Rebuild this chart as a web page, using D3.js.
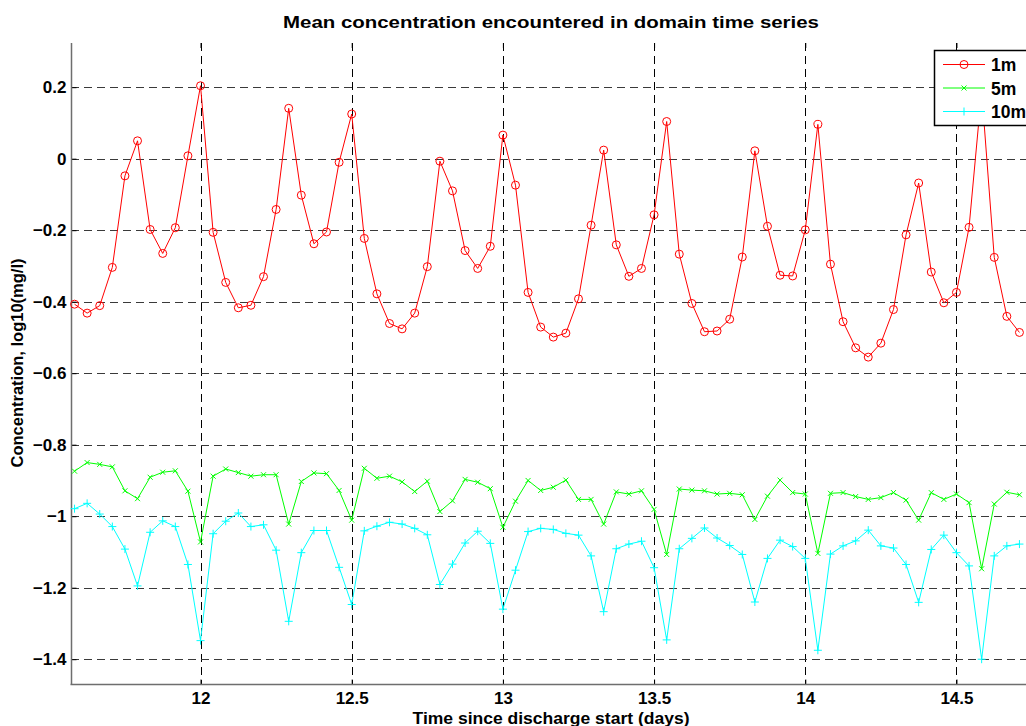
<!DOCTYPE html>
<html>
<head>
<meta charset="utf-8">
<script src="https://cdn.jsdelivr.net/npm/d3@7"></script>
<style>
    body { margin: 0; background: #fff; }
    svg { display: block; font-family: "Liberation Sans", Arial, sans-serif; font-weight: bold; }
    .grid line { stroke-dasharray: 8,5; shape-rendering: crispEdges; }
</style>
</head>
<body>
<div id="view"></div>
<script>
// hours relative to day 12.0, one sample per hour
const hours = d3.range(-10, 66);

const conc1m = [
    -0.407, -0.432, -0.411, -0.304, -0.048, 0.050, -0.198, -0.265, -0.193, 0.008,
    0.204, -0.206, -0.346, -0.417, -0.410, -0.330, -0.142, 0.141, -0.102, -0.238,
    -0.205, -0.010, 0.125, -0.223, -0.378, -0.461, -0.476, -0.432, -0.302, -0.007,
    -0.090, -0.257, -0.307, -0.245, 0.066, -0.074, -0.374, -0.471, -0.499, -0.488,
    -0.392, -0.186, 0.024, -0.241, -0.329, -0.307, -0.157, 0.104, -0.267, -0.405,
    -0.484, -0.482, -0.449, -0.275, 0.022, -0.189, -0.326, -0.328, -0.199, 0.096,
    -0.295, -0.456, -0.529, -0.555, -0.516, -0.422, -0.213, -0.068, -0.317, -0.403,
    -0.374, -0.192, 0.190, -0.276, -0.441, -0.486
];
const conc5m = [
    -0.874, -0.850, -0.855, -0.862, -0.929, -0.951, -0.891, -0.877, -0.873, -0.930,
    -1.072, -0.888, -0.868, -0.878, -0.888, -0.884, -0.884, -1.022, -0.903, -0.879,
    -0.881, -0.928, -1.011, -0.866, -0.894, -0.888, -0.904, -0.931, -0.902, -0.987,
    -0.957, -0.897, -0.905, -0.923, -1.031, -0.958, -0.900, -0.928, -0.919, -0.899,
    -0.953, -0.953, -1.022, -0.932, -0.938, -0.929, -0.981, -1.107, -0.924, -0.927,
    -0.929, -0.938, -0.936, -0.940, -1.009, -0.944, -0.899, -0.934, -0.938, -1.104,
    -0.936, -0.934, -0.945, -0.953, -0.948, -0.934, -0.955, -1.011, -0.934, -0.953,
    -0.938, -0.962, -1.147, -0.966, -0.933, -0.940
];
const conc10m = [
    -0.979, -0.964, -0.994, -1.029, -1.092, -1.195, -1.045, -1.013, -1.029, -1.135,
    -1.348, -1.049, -1.014, -0.991, -1.029, -1.024, -1.095, -1.294, -1.102, -1.040,
    -1.040, -1.143, -1.247, -1.041, -1.028, -1.017, -1.022, -1.034, -1.052, -1.191,
    -1.134, -1.075, -1.042, -1.076, -1.260, -1.151, -1.043, -1.034, -1.037, -1.048,
    -1.053, -1.111, -1.267, -1.091, -1.078, -1.070, -1.144, -1.346, -1.091, -1.062,
    -1.033, -1.061, -1.082, -1.107, -1.240, -1.118, -1.067, -1.085, -1.118, -1.375,
    -1.106, -1.083, -1.069, -1.039, -1.083, -1.089, -1.135, -1.241, -1.093, -1.053,
    -1.102, -1.139, -1.400, -1.111, -1.083, -1.078
];

const xTicks = [12, 12.5, 13, 13.5, 14, 14.5];
const yTicks = [0.2, 0, -0.2, -0.4, -0.6, -0.8, -1, -1.2, -1.4];

const seriesNames = ['1m', '5m', '10m'];
const seriesColors = ['#ff0000', '#00ff00', '#00ffff'];
const seriesMarkers = ['circle', 'cross', 'plus'];

const width = 1026;
const height = 726;
const plotLeft = 70.5, plotTop = 43, plotBottom = 683.7, plotRight = 1026;

const svg = d3.select('#view')
    .append('svg')
        .attr('width', width)
        .attr('height', height);

const x = d3.scaleLinear().domain([11.57, 14.73]).range([plotLeft, plotRight]);
const y = d3.scaleLinear().domain([-1.4685, 0.3236]).range([plotBottom, plotTop]);

// grid
const grid = svg.append('g').attr('class', 'grid');
grid.selectAll('.gx')
    .data(xTicks)
    .join('line')
        .attr('class', 'gx')
        .attr('stroke', '#000')
        .attr('x1', d => Math.round(x(d)) + 0.5)
        .attr('x2', d => Math.round(x(d)) + 0.5)
        .attr('y1', plotTop)
        .attr('y2', plotBottom);
grid.selectAll('.gy')
    .data(yTicks)
    .join('line')
        .attr('class', 'gy')
        .attr('stroke', '#3a3a3a')
        .attr('y1', d => Math.round(y(d)) + 0.5)
        .attr('y2', d => Math.round(y(d)) + 0.5)
        .attr('x1', plotLeft)
        .attr('x2', plotRight);

// axes (box without the top line)
const axisColor = '#6e6e6e';
const tickFont = 17;
svg.append('g')
    .attr('transform', `translate(0,${Math.round(plotBottom) + 0.5})`)
    .call(d3.axisBottom(x).tickValues(xTicks).tickSize(-5).tickFormat(d3.format('')))
    .call(g => g.select('.domain').remove())
    .call(g => g.selectAll('.tick line').attr('stroke', '#000'))
    .call(g => g.selectAll('text')
        .attr('y', 19).attr('dy', null)
        .attr('font-size', tickFont).attr('font-family', null).attr('fill', '#000'));
svg.append('g')
    .attr('transform', `translate(0,${plotTop})`)
    .call(d3.axisTop(x).tickValues(xTicks).tickSize(-5).tickFormat(''))
    .call(g => g.select('.domain').remove())
    .call(g => g.selectAll('.tick line').attr('stroke', '#000'));
svg.append('g')
    .attr('transform', `translate(${Math.round(plotLeft) + 0.5},0)`)
    .call(d3.axisLeft(y).tickValues(yTicks).tickSize(-5).tickPadding(5).tickFormat(d3.format('')))
    .call(g => g.select('.domain').remove())
    .call(g => g.selectAll('.tick line').attr('stroke', '#000'))
    .call(g => g.selectAll('text').attr('font-size', tickFont).attr('font-family', null).attr('fill', '#000'));

svg.append('line')
    .attr('x1', Math.round(plotLeft) + 0.5).attr('x2', Math.round(plotLeft) + 0.5)
    .attr('y1', plotTop).attr('y2', Math.round(plotBottom) + 0.5)
    .attr('stroke', axisColor).attr('stroke-width', 1.5);
svg.append('line')
    .attr('x1', plotLeft).attr('x2', plotRight)
    .attr('y1', Math.round(plotBottom) + 0.5).attr('y2', Math.round(plotBottom) + 0.5)
    .attr('stroke', axisColor).attr('stroke-width', 1.5);

// series
const allSeries = [conc1m, conc5m, conc10m];
const line = d3.line()
    .x((d, i) => x(12 + hours[i] / 24))
    .y(d => y(d));

function drawMarker(g, type, color, cx, cy) {
    if (type == 'circle') {
        g.append('circle')
            .attr('cx', cx).attr('cy', cy).attr('r', 4)
            .attr('fill', 'none').attr('stroke', color).attr('stroke-width', 1);
    } else if (type == 'cross') {
        const s = 2.5;
        g.append('path')
            .attr('d', `M${cx - s},${cy - s}L${cx + s},${cy + s}M${cx - s},${cy + s}L${cx + s},${cy - s}`)
            .attr('stroke', color).attr('stroke-width', 1);
    } else {
        const s = 4;
        g.append('path')
            .attr('d', `M${cx - s},${cy}L${cx + s},${cy}M${cx},${cy - s}L${cx},${cy + s}`)
            .attr('stroke', color).attr('stroke-width', 1);
    }
}

allSeries.forEach((values, k) => {
    const g = svg.append('g');
    g.append('path')
        .datum(values)
        .attr('fill', 'none')
        .attr('stroke', seriesColors[k])
        .attr('stroke-width', 1)
        .attr('d', line);
    values.forEach((v, i) => {
        drawMarker(g, seriesMarkers[k], seriesColors[k], x(12 + hours[i] / 24), y(v));
    });
});

// legend
const legend = svg.append('g');
legend.append('rect')
    .attr('x', 934.5).attr('y', 50.5)
    .attr('width', 120).attr('height', 75)
    .attr('fill', '#fff').attr('stroke', '#000').attr('stroke-width', 1.5);
seriesNames.forEach((name, k) => {
    const ly = 64.5 + k * 23.5;
    legend.append('line')
        .attr('x1', 943).attr('x2', 985)
        .attr('y1', ly).attr('y2', ly)
        .attr('stroke', seriesColors[k]).attr('stroke-width', 1);
    drawMarker(legend, seriesMarkers[k], seriesColors[k], 964, ly);
    legend.append('text')
        .attr('x', 991).attr('y', ly + 6.5)
        .attr('font-size', 17.5)
        .text(name);
});

// labels
svg.append('text')
    .attr('x', 551).attr('y', 27.5)
    .attr('text-anchor', 'middle')
    .attr('font-size', 17)
    .attr('textLength', 536)
    .attr('lengthAdjust', 'spacingAndGlyphs')
    .text('Mean concentration encountered in domain time series');
svg.append('text')
    .attr('x', 551).attr('y', 723.5)
    .attr('text-anchor', 'middle')
    .attr('font-size', 16.5)
    .attr('textLength', 277)
    .attr('lengthAdjust', 'spacingAndGlyphs')
    .text('Time since discharge start (days)');
svg.append('text')
    .attr('transform', `translate(23,363) rotate(-90)`)
    .attr('text-anchor', 'middle')
    .attr('font-size', 16.5)
    .text('Concentration, log10(mg/l)');
</script>
</body>
</html>
